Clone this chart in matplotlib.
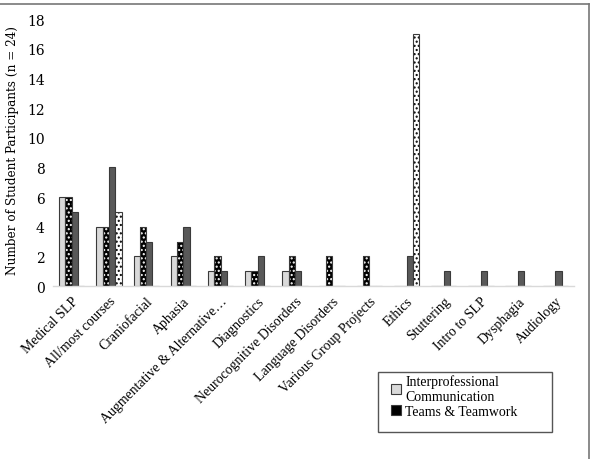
import matplotlib
matplotlib.use("Agg")
import matplotlib.pyplot as plt
import numpy as np
from matplotlib.lines import Line2D
from matplotlib.patches import Rectangle

plt.rcParams['hatch.linewidth'] = 1.0

categories = ["Medical SLP", "All/most courses", "Craniofacial", "Aphasia",
              "Augmentative & Alternative…", "Diagnostics", "Neurocognitive Disorders",
              "Language Disorders", "Various Group Projects", "Ethics", "Stuttering",
              "Intro to SLP", "Dysphagia", "Audiology"]
interprofessional = [6, 4, 2, 2, 1, 1, 1, 0, 0, 0, 0, 0, 0, 0]
teams = [6, 4, 4, 3, 2, 1, 2, 2, 2, 0, 0, 0, 0, 0]
series3 = [5, 8, 3, 4, 1, 2, 1, 0, 0, 2, 1, 1, 1, 1]
series4 = [0, 5, 0, 0, 0, 0, 0, 0, 0, 17, 0, 0, 0, 0]
yticks = [0, 2, 4, 6, 8, 10, 12, 14, 16, 18]

fig = plt.figure(figsize=(5.91, 4.60), dpi=100)
ax = fig.add_axes([0.090, 0.376, 0.881, 0.580])

x = np.arange(len(categories))
bw = 0.17
ec = "#3a3a3a"
ax.bar(x - 1.5 * bw, interprofessional, bw, color="#d9d9d9", edgecolor=ec, linewidth=0.8)
ax.bar(x - 0.5 * bw, teams, bw, color="black", edgecolor="white", hatch="....", linewidth=0)
ax.bar(x - 0.5 * bw, teams, bw, color="none", edgecolor=ec, linewidth=0.8)
ax.bar(x + 0.5 * bw, series3, bw, color="#595959", edgecolor=ec, linewidth=0.8)
ax.bar(x + 1.5 * bw, series4, bw, color="white", edgecolor="black", hatch="....", linewidth=0)
ax.bar(x + 1.5 * bw, series4, bw, color="none", edgecolor=ec, linewidth=0.8)

ax.set_xlim(-0.5, len(categories) - 0.5)
ax.set_ylim(0, 18)
ax.set_yticks(yticks)
ax.set_yticklabels([str(t) for t in yticks], fontsize=10, family="DejaVu Serif")
ax.set_xticks(x)
ax.set_xticklabels(categories, rotation=45, ha="right", rotation_mode="anchor",
                   fontsize=10, family="Liberation Serif")
ax.tick_params(axis="both", length=0)
ax.tick_params(axis="y", pad=6)
ax.tick_params(axis="x", pad=6)
for s in ["top", "right", "left"]:
    ax.spines[s].set_visible(False)
ax.spines["bottom"].set_color("#d9d9d9")
ax.spines["bottom"].set_linewidth(1.0)
ax.set_ylabel("Number of Student Participants (n = 24)", fontsize=9.6,
              family="DejaVu Serif", labelpad=4)
ax.yaxis.label.set_stretch("condensed")
ax.yaxis.set_label_coords(-0.066, 0.513)

handles = [Rectangle((0, 0), 1, 1, facecolor="#d9d9d9", edgecolor="#3a3a3a", linewidth=0.8),
           Rectangle((0, 0), 1, 1, facecolor="black", edgecolor="#3a3a3a", linewidth=0.8)]
leg = fig.legend(handles, ["Interprofessional\nCommunication", "Teams & Teamwork"],
                 loc="upper left", bbox_to_anchor=(390 / 591, 1 - 374 / 460),
                 prop={"family": "Liberation Serif", "size": 10},
                 frameon=False, handlelength=0.7, handleheight=0.7,
                 handletextpad=0.3, borderpad=0.1, labelspacing=0.1,
                 borderaxespad=0)
fig.add_artist(Rectangle((378 / 591, 1 - 433 / 460), (552 - 378) / 591, (433 - 373) / 460,
                         transform=fig.transFigure, facecolor="none",
                         edgecolor="#555555", linewidth=1.0))

# outer frame (top and right edges visible)
fig.add_artist(Line2D([0, 589 / 591], [1 - 5 / 460, 1 - 5 / 460], color="#777777", lw=1.2,
                      transform=fig.transFigure))
fig.add_artist(Line2D([589 / 591, 589 / 591], [0, 1 - 5 / 460], color="#777777", lw=1.2,
                      transform=fig.transFigure))

fig.savefig("out.png", dpi=100)
